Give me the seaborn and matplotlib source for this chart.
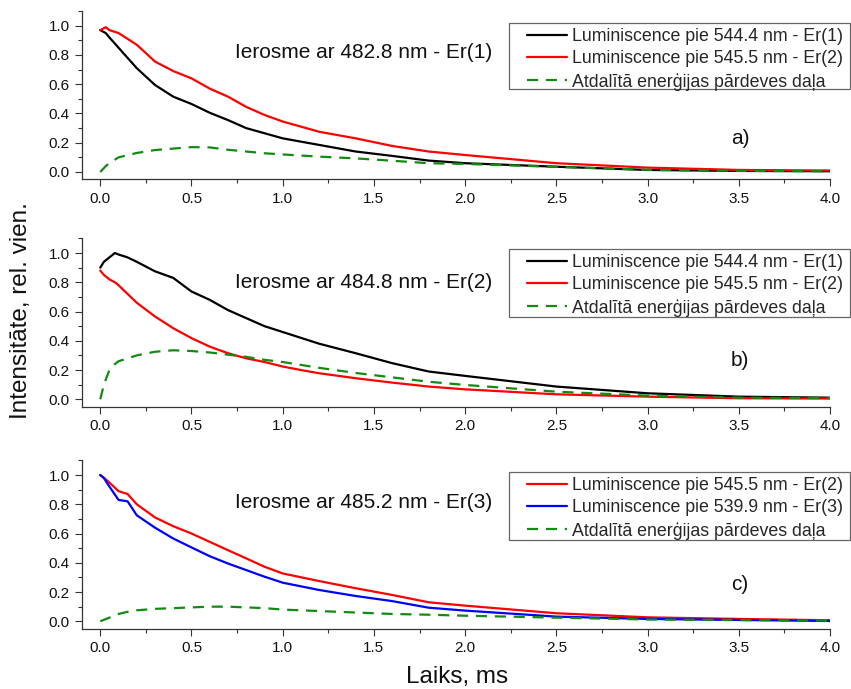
import numpy as np
import pandas as pd
import matplotlib
matplotlib.use("Agg")
import matplotlib.pyplot as plt
from matplotlib.ticker import MultipleLocator
from matplotlib.patches import Rectangle
import seaborn as sns

# ---------------- data ----------------
t1 = [0, 0.03, 0.05, 0.1, 0.2, 0.3, 0.4, 0.5, 0.6, 0.7, 0.8, 0.9, 1.0, 1.2, 1.4, 1.6, 1.8, 2.0, 2.5, 3.0, 3.5, 4.0]
p1_er1 = [0.97, 0.95, 0.92, 0.85, 0.71, 0.595, 0.515, 0.465, 0.405, 0.355, 0.30, 0.265, 0.23, 0.185, 0.14, 0.11, 0.078, 0.06, 0.036, 0.014, 0.007, 0.005]
p1_er2 = [0.97, 0.99, 0.97, 0.95, 0.87, 0.755, 0.69, 0.64, 0.57, 0.515, 0.445, 0.39, 0.345, 0.275, 0.23, 0.178, 0.14, 0.116, 0.06, 0.03, 0.014, 0.01]
p1_tr = [0.0, 0.04, 0.06, 0.10, 0.13, 0.15, 0.16, 0.17, 0.168, 0.152, 0.14, 0.128, 0.12, 0.105, 0.093, 0.077, 0.06, 0.055, 0.035, 0.015, 0.008, 0.005]

t2 = [0, 0.02, 0.05, 0.08, 0.1, 0.15, 0.2, 0.3, 0.4, 0.5, 0.6, 0.7, 0.8, 0.9, 1.0, 1.1, 1.2, 1.4, 1.6, 1.8, 2.0, 2.5, 3.0, 3.5, 4.0]
p2_er1 = [0.9, 0.94, 0.97, 1.0, 0.99, 0.97, 0.94, 0.875, 0.83, 0.737, 0.68, 0.61, 0.555, 0.50, 0.46, 0.42, 0.38, 0.315, 0.247, 0.19, 0.16, 0.087, 0.041, 0.018, 0.011]
p2_er2 = [0.88, 0.85, 0.82, 0.80, 0.78, 0.72, 0.66, 0.566, 0.486, 0.418, 0.36, 0.315, 0.28, 0.255, 0.224, 0.2, 0.178, 0.144, 0.114, 0.087, 0.068, 0.034, 0.018, 0.007, 0.005]
p2_tr = [0.0, 0.10, 0.20, 0.24, 0.26, 0.28, 0.30, 0.325, 0.335, 0.33, 0.32, 0.305, 0.29, 0.27, 0.255, 0.235, 0.215, 0.18, 0.15, 0.12, 0.098, 0.052, 0.025, 0.011, 0.008]

t3 = [0, 0.02, 0.04, 0.1, 0.15, 0.2, 0.3, 0.4, 0.5, 0.6, 0.7, 0.8, 0.9, 1.0, 1.2, 1.4, 1.6, 1.8, 2.0, 2.5, 3.0, 3.5, 4.0]
p3_er2 = [1.0, 0.98, 0.96, 0.89, 0.87, 0.80, 0.71, 0.65, 0.60, 0.543, 0.486, 0.43, 0.373, 0.327, 0.275, 0.226, 0.18, 0.13, 0.107, 0.055, 0.027, 0.016, 0.007]
p3_er3 = [1.0, 0.98, 0.94, 0.83, 0.82, 0.725, 0.64, 0.566, 0.505, 0.445, 0.395, 0.35, 0.305, 0.264, 0.214, 0.173, 0.138, 0.093, 0.073, 0.032, 0.016, 0.009, 0.002]
p3_tr = [0.0, 0.01, 0.02, 0.05, 0.065, 0.075, 0.085, 0.09, 0.095, 0.10, 0.10, 0.095, 0.09, 0.08, 0.07, 0.06, 0.05, 0.045, 0.038, 0.025, 0.012, 0.008, 0.005]

lab_er1 = "Luminiscence pie 544.4 nm - Er(1)"
lab_er2 = "Luminiscence pie 545.5 nm - Er(2)"
lab_er3 = "Luminiscence pie 539.9 nm - Er(3)"
lab_tr = "Atdalītā enerģijas pārdeves daļa"

excitations = ["Ierosme ar 482.8 nm - Er(1)", "Ierosme ar 484.8 nm - Er(2)", "Ierosme ar 485.2 nm - Er(3)"]
panel_tags = ["a)", "b)", "c)"]
x_ticks = [0.0, 0.5, 1.0, 1.5, 2.0, 2.5, 3.0, 3.5, 4.0]
y_ticks = [0.0, 0.2, 0.4, 0.6, 0.8, 1.0]

# ---------------- style ----------------
sns.set_theme(style="ticks")
plt.rcParams["font.family"] = ["Liberation Sans", "DejaVu Sans"]

BLACK, RED, BLUE, GREEN = "#000000", "#ff0000", "#0000ff", "#138a13"

panels = [
    (t1, [(p1_er1, lab_er1, BLACK), (p1_er2, lab_er2, RED), (p1_tr, lab_tr, GREEN)]),
    (t2, [(p2_er1, lab_er1, BLACK), (p2_er2, lab_er2, RED), (p2_tr, lab_tr, GREEN)]),
    (t3, [(p3_er2, lab_er2, RED), (p3_er3, lab_er3, BLUE), (p3_tr, lab_tr, GREEN)]),
]

W, H = 851, 689
fig = plt.figure(figsize=(W / 100, H / 100), dpi=100)
fig.patch.set_facecolor("white")

ax_left = 82 / W
ax_width = (830 - 82) / W
ax_h = 168.2 / H
bottoms_px = [179.3, 406.6, 628.6]
legend_box_px = [(509, 23, 850, 89), (509, 249, 850, 317), (509, 472, 850, 540)]
exc_y_px = [53, 282, 503]
tag_y_px = [138, 360, 584]

for i, (tt, series) in enumerate(panels):
    ax = fig.add_axes([ax_left, 1 - bottoms_px[i] / H, ax_width, ax_h])
    ax.set_facecolor("white")
    handles = []
    for vals, lab, col in series:
        df = pd.DataFrame({"t": tt, "v": vals})
        dashed = lab == lab_tr
        sns.lineplot(data=df, x="t", y="v", ax=ax, color=col, lw=1.6,
                     linestyle=(0, (5, 3.5)) if dashed else "-",
                     estimator=None, sort=False, label=lab, legend=False)
        handles.append(ax.lines[-1])

    # legend frame drawn separately (wider inset than matplotlib's uniform pad)
    x0, y0, x1, y1 = legend_box_px[i]
    frame = Rectangle((x0 / W, 1 - y1 / H), (x1 - x0) / W, (y1 - y0) / H,
                      transform=fig.transFigure, facecolor="white",
                      edgecolor="#666666", linewidth=0.9, zorder=4, clip_on=False)
    ax.add_artist(frame)

    ax.set_xlim(-0.1, 4.0)
    ax.set_ylim(-0.05, 1.1)
    ax.set_xticks(x_ticks)
    ax.set_yticks(y_ticks)
    ax.set_xticklabels([f"{v:.1f}" for v in x_ticks])
    ax.set_yticklabels([f"{v:.1f}" for v in y_ticks])
    ax.xaxis.set_minor_locator(MultipleLocator(0.25))
    ax.yaxis.set_minor_locator(MultipleLocator(0.1))
    ax.tick_params(which="major", direction="out", length=5, width=0.8,
                   color="#333333", labelsize=11, labelcolor="#111111", pad=4)
    ax.tick_params(which="minor", direction="out", length=3, width=0.8, color="#333333")
    for s in ["top", "right"]:
        ax.spines[s].set_visible(False)
    for s in ["left", "bottom"]:
        ax.spines[s].set_color("#333333")
        ax.spines[s].set_linewidth(0.9)
    ax.set_xlabel("")
    ax.set_ylabel("")

    leg = ax.legend(handles=handles, labels=[s[1] for s in series],
                    loc="upper left", bbox_to_anchor=((x0 + 18) / W, 1 - (y0 + 5) / H),
                    bbox_transform=fig.transFigure, borderaxespad=0, fontsize=12.8,
                    frameon=False, borderpad=0.0, labelspacing=0.3,
                    handlelength=2.25, handletextpad=0.3)
    leg.set_zorder(6)

    fig.text(235 / W, 1 - exc_y_px[i] / H, excitations[i], fontsize=15,
             ha="left", va="center", color="#111111")
    fig.text(740 / W, 1 - tag_y_px[i] / H, panel_tags[i], fontsize=15,
             ha="center", va="center", color="#111111")

fig.text(21 / W, 1 - 311 / H, "Intensitāte, rel. vien.", rotation=90,
         fontsize=17.5, ha="center", va="center", color="#111111")
fig.text(457 / W, 1 - 677 / H, "Laiks, ms", fontsize=17.5,
         ha="center", va="center", color="#111111")

fig.savefig("out.png", dpi=100, facecolor="white")
